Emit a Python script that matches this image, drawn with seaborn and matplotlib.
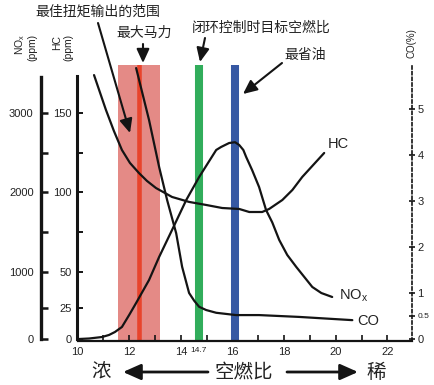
import numpy as np
import pandas as pd
import matplotlib
matplotlib.use("Agg")
import matplotlib.pyplot as plt
import seaborn as sns

# ---------------- data ----------------
nox_afr = [10.06, 10.45, 10.95, 11.22, 11.45, 11.72, 12.0, 12.27, 12.77, 13.16, 13.66,
           14.21, 14.71, 15.37, 15.56, 15.87, 16.1, 16.26, 16.42, 16.53, 16.76, 17.03,
           17.30, 17.54, 17.81, 18.12, 18.47, 19.09, 19.44, 19.86]
nox_ppm = [0, 8, 32, 65, 113, 194, 387, 570, 889, 1188, 1525,
           1900, 2190, 2532, 2570, 2620, 2630, 2595, 2532, 2443, 2278, 2063,
           1775, 1620, 1400, 1213, 1063, 792, 708, 653]

hc_afr = [10.64, 10.87, 11.10, 11.41, 11.72, 12.03, 12.38, 12.69, 13.04, 13.66,
          14.32, 14.98, 15.60, 16.26, 16.65, 17.15, 17.42, 17.93, 18.32, 18.70, 19.55]
hc_ppm = [174, 163, 152, 138.6, 126.6, 118.4, 112, 107, 102.5, 96.9,
          93.8, 91.9, 90, 89.4, 87.5, 87.5, 89.4, 95, 101.3, 109.5, 124.7]

co_afr = [12.27, 12.77, 13.16, 13.47, 13.82, 14.05, 14.32, 14.52, 14.71, 14.98,
          15.37, 16.14, 17.03, 18.58, 20.64]
co_pct = [5.89, 4.76, 3.74, 3.02, 2.30, 1.57, 1.0, 0.83, 0.70, 0.63,
          0.57, 0.52, 0.52, 0.48, 0.41]

torque_band = [11.57, 13.2]
max_power_afr = 12.4
closed_loop_afr = 14.7
best_economy_afr = 16.1

x_major = [10, 12, 14, 16, 18, 20, 22]
x_minor = [11, 13, 15, 17, 19, 21]
hc_ticks = [0, 25, 50, 75, 100, 125, 150]
hc_labels = ["0", "25", "50", "", "100", "", "150"]
nox_ticks = [0, 500, 1000, 1500, 2000, 2500, 3000]
nox_labels = ["0", "", "1000", "", "2000", "", "3000"]
co_ticks = [0, 0.5, 1, 2, 3, 4, 5]
co_labels = ["0", "0.5", "1", "2", "3", "4", "5"]

# ---------------- style ----------------
sns.set_theme(style="ticks")
plt.rcParams["font.family"] = ["Liberation Sans", "DejaVu Sans", "Noto Sans CJK SC"]
plt.rcParams["axes.unicode_minus"] = False
CJK = ["Noto Sans CJK SC", "DejaVu Sans"]
INK = "#141414"
TXT = "#222222"

W, H = 435, 385
fig = plt.figure(figsize=(W / 100, H / 100), dpi=100)
fig.patch.set_facecolor("white")


def P(px, py):
    return (px / W, 1 - py / H)


ax = fig.add_axes([77.5 / W, (H - 341) / H, (412 - 77.5) / W, (341 - 65) / H])
ax.set_facecolor("none")

# piecewise scale of the HC / NOx axes (compressed near zero as drawn)
V = np.array([-100, 0, 25, 50, 100, 150, 300], dtype=float)
Hs = np.array([-124, 0, 31, 67, 147, 226, 463], dtype=float)


def fwd(v):
    return np.interp(v, V, Hs)


def inv(h):
    return np.interp(h, Hs, V)


def fwd_n(v):
    return np.interp(np.asarray(v) / 20.0, V, Hs)


def inv_n(h):
    return np.interp(h, Hs, V) * 20.0


ax.set_yscale("function", functions=(fwd, inv))

# bands / lines
ax.axvspan(torque_band[0], torque_band[1], color="#e48a86", lw=0, zorder=0)
ax.axvline(max_power_afr, color="#e8442c", lw=3.3, zorder=1)
ax.axvline(closed_loop_afr, color="#31ad5b", lw=5.8, zorder=1)
ax.axvline(best_economy_afr, color="#3658a3", lw=5.8, zorder=1)

# HC curve on main axis
sns.lineplot(x=hc_afr, y=hc_ppm, ax=ax, color=INK, lw=1.6, sort=False, zorder=5)

# NOx axis
ax_n = ax.twinx()
ax_n.set_yscale("function", functions=(fwd_n, inv_n))
sns.lineplot(x=nox_afr, y=nox_ppm, ax=ax_n, color=INK, lw=1.6, sort=False)

# CO axis
ax_c = ax.twinx()
sns.lineplot(x=co_afr, y=co_pct, ax=ax_c, color=INK, lw=1.6, sort=False)

for line in ax.lines + ax_n.lines + ax_c.lines:
    line.set_solid_joinstyle("round")
    line.set_solid_capstyle("round")

# limits
ax.set_xlim(10, 22.95)
ax.set_ylim(inv(-2), inv(274))
ax_n.set_ylim(inv_n(-2), inv_n(274))
ax_c.set_ylim(-2 / 46, 274 / 46)
for a in (ax, ax_n, ax_c):
    a.set_xlabel("")
    a.set_ylabel("")

# main axis spines
ax.spines["top"].set_visible(False)
ax.spines["right"].set_visible(False)
ax.spines["bottom"].set_linewidth(1.6)
ax.spines["bottom"].set_color(INK)
ax.spines["left"].set_color(INK)
ax.spines["left"].set_linewidth(2.2)
ax.spines["left"].set_linestyle((0, (1.0, 1.0)))
ax.spines["left"].set_bounds(0, inv(263))

ax.set_xticks(x_major)
ax.set_xticklabels([str(v) for v in x_major], fontsize=8, color=TXT)
ax.set_xticks(x_minor + [closed_loop_afr], minor=True)
ax.set_xticklabels([""] * len(x_minor) + ["14.7"], minor=True, fontsize=6, color=TXT)
ax.tick_params(axis="x", which="both", direction="in", length=4, width=1.2,
               color=INK, pad=4, bottom=True, top=False)

ax.set_yticks(hc_ticks)
ax.set_yticklabels(hc_labels, fontsize=8, color=TXT)
ax.set_yticks([], minor=True)
ax.tick_params(axis="y", which="major", direction="in", length=4, width=1.4,
               color=INK, pad=4, left=True, right=False)

# NOx spines
for s in ("top", "right", "bottom"):
    ax_n.spines[s].set_visible(False)
ax_n.spines["left"].set_visible(True)
ax_n.spines["left"].set_position(("outward", 26.6))
ax_n.spines["left"].set_linewidth(2.4)
ax_n.spines["left"].set_color(INK)
ax_n.spines["left"].set_bounds(0, inv_n(262))
ax_n.yaxis.set_ticks_position("left")
ax_n.yaxis.set_label_position("left")
ax_n.set_yticks(nox_ticks)
ax_n.set_yticklabels(nox_labels, fontsize=8, color=TXT)
ax_n.set_yticks([], minor=True)
ax_n.tick_params(axis="y", which="major", direction="in", length=5, width=1.8,
                 color=INK, pad=5, left=True, right=False)

# CO spines
for s in ("top", "left", "bottom"):
    ax_c.spines[s].set_visible(False)
ax_c.spines["right"].set_linewidth(1.2)
ax_c.spines["right"].set_color(INK)
ax_c.spines["right"].set_linestyle((0, (1.8, 1.6)))
ax_c.set_yticks(co_ticks)
ax_c.set_yticklabels(co_labels, fontsize=8, color=TXT)
ax_c.set_yticks([], minor=True)
for t in ax_c.get_yticklabels():
    if t.get_text() == "0.5":
        t.set_fontsize(6)
ax_c.tick_params(axis="y", which="major", direction="inout", length=4, width=1.2,
                 color=INK, pad=2, right=True, left=False)

# axis titles
fig.text(*P(20, 44), "NO$_\\mathregular{x}$", rotation=90, ha="center", va="center", fontsize=7.5, color=TXT)
fig.text(*P(32, 47), "(ppm)", rotation=90, ha="center", va="center", fontsize=7.5, color=TXT)
fig.text(*P(57, 43), "HC", rotation=90, ha="center", va="center", fontsize=7.5, color=TXT)
fig.text(*P(68, 47), "(ppm)", rotation=90, ha="center", va="center", fontsize=7.5, color=TXT)
fig.text(*P(412, 43), "CO(%)", rotation=90, ha="center", va="center", fontsize=7, color=TXT)

# curve labels
fig.text(*P(328, 144), "HC", ha="left", va="center", fontsize=10.5, color=TXT)
fig.text(*P(339, 296), "NO$_\\mathregular{x}$", ha="left", va="center", fontsize=10.5, color=TXT)
fig.text(*P(357, 321), "CO", ha="left", va="center", fontsize=10.5, color=TXT)

# annotations
arrow = dict(arrowstyle="-|>,head_length=0.7,head_width=0.32", lw=1.5, color=INK,
             shrinkA=0, shrinkB=0)
fig.text(*P(35, 12), "最佳扭矩输出的范围", ha="left", va="center", fontsize=10, family=CJK, color=TXT)
fig.text(*P(144, 33), "最大马力", ha="center", va="center", fontsize=10, family=CJK, color=TXT)
fig.text(*P(261, 28), "闭环控制时目标空燃比", ha="center", va="center", fontsize=10, family=CJK, color=TXT)
fig.text(*P(305, 55), "最省油", ha="center", va="center", fontsize=10, family=CJK, color=TXT)
ax.annotate("", xy=P(130, 133), xytext=P(98, 23), xycoords="figure fraction",
            textcoords="figure fraction", arrowprops=arrow, annotation_clip=False)
ax.annotate("", xy=P(143, 63), xytext=P(143, 44), xycoords="figure fraction",
            textcoords="figure fraction", arrowprops=arrow, annotation_clip=False)
ax.annotate("", xy=P(200, 62), xytext=P(205, 38), xycoords="figure fraction",
            textcoords="figure fraction", arrowprops=arrow, annotation_clip=False)
ax.annotate("", xy=P(243, 94), xytext=P(282, 63), xycoords="figure fraction",
            textcoords="figure fraction", arrowprops=arrow, annotation_clip=False)

# bottom caption
fig.text(*P(101, 372), "浓", ha="center", va="center", fontsize=14, family=CJK, color=TXT)
fig.text(*P(244, 372), "空燃比", ha="center", va="center", fontsize=14, family=CJK, color=TXT)
fig.text(*P(376, 372), "稀", ha="center", va="center", fontsize=14, family=CJK, color=TXT)
big = dict(arrowstyle="-|>,head_length=0.9,head_width=0.4", lw=2.0, color=INK,
           shrinkA=0, shrinkB=0)
ax.annotate("", xy=P(123, 372), xytext=P(208, 372), xycoords="figure fraction",
            textcoords="figure fraction", arrowprops=big, annotation_clip=False)
ax.annotate("", xy=P(358, 372), xytext=P(287, 372), xycoords="figure fraction",
            textcoords="figure fraction", arrowprops=big, annotation_clip=False)

fig.savefig("out.png", dpi=100, facecolor="white")
